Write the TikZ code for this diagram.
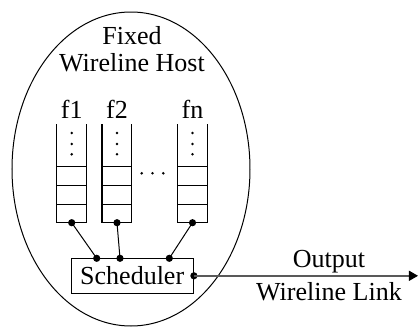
\documentclass[tikz,border=0pt]{standalone}
\usepackage{fontspec}
\setmainfont{Liberation Serif}
\usetikzlibrary{positioning,arrows.meta}

\begin{document}
\begin{tikzpicture}[
  x=0.5pt, y=-0.5pt,
  txt/.style={font=\fontsize{13}{13.5}\selectfont, inner sep=0pt, align=center},
  qline/.style={line width=0.5pt},
  bigdot/.style={circle, fill=black, inner sep=0pt, minimum size=3.6pt},
  smdot/.style={circle, fill=black, inner sep=0pt, minimum size=1.4pt},
  sched/.style={draw, line width=0.5pt, minimum width=61.2pt, minimum height=17.5pt,
                inner sep=0pt, font=\fontsize{13}{13.5}\selectfont},
  outl/.style={line width=0.7pt, black!65,
               -{Triangle[length=4.5pt,width=5pt,color=black]}},
]
  \useasboundingbox (0,0) rectangle (419,327);

  %% host
  \draw[line width=0.5pt] (131,169) ellipse [x radius=59.5pt, y radius=78.5pt];
  \node[txt] (host) at (132,49.5) {Fixed\\Wireline Host};

  %% flow queues
  \foreach \n/\l/\x in {q1/f1/71.7, q2/f2/117, qn/fn/192.5} {
    \node[txt] (\n lbl) at (\x,109) {\l};
    \draw[qline] ({\x-15},124) -- ({\x-15},222.7) -- ({\x+15},222.7) -- ({\x+15},124);
    \foreach \y in {166,185.3,204.3}
      \draw[qline] ({\x-15},\y) -- ({\x+15},\y);
    \foreach \y in {133,144,154.3}
      \node[smdot] at (\x,\y) {};
    \node[bigdot] (\n) at (\x,222.7) {};
  }
  \foreach \x in {141.7,152.5,163.3}
    \node[smdot] at (\x,173.3) {};

  %% scheduler
  \node[sched] (sch) at (132.2,275.8) {Scheduler};
  \node[bigdot] (t1) at (96.7,258.3) {};
  \node[bigdot] (t2) at (120,258.3) {};
  \node[bigdot] (tn) at (169.3,258.3) {};
  \node[bigdot] (sr) at (sch.east) {};

  \foreach \a/\b in {q1/t1, q2/t2, qn/tn}
    \draw[qline] (\a.center) -- (\b.center);

  %% output link
  \coordinate (out) at (418,275.8);
  \draw[outl] (sr.center) -- (out);
  \node[txt] (outlbl) at (329,262) {Output};
  \node[txt] (linklbl) at (329,292) {Wireline Link};
\end{tikzpicture}
\end{document}
